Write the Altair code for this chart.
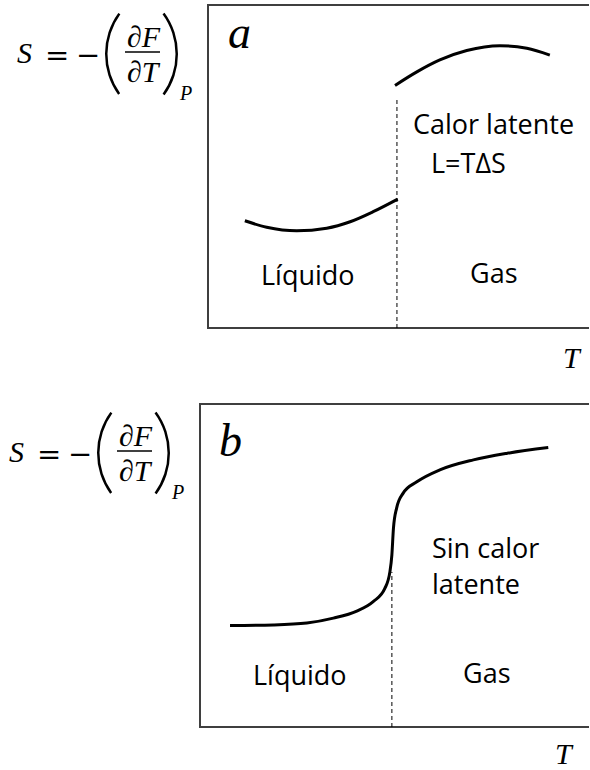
import altair as alt
import pandas as pd

# Entropy S(T) across a liquid-gas transition, two schematic cases.
# Panel a: first-order transition (entropy jumps at T_c -> latent heat)
a_liq_T = [1.15, 1.71, 2.48, 3.25, 3.85, 4.44, 5.07]
a_liq_S = [3.32, 3.12, 3.01, 3.09, 3.29, 3.60, 3.99]
a_gas_T = [5.00, 5.56, 6.15, 6.84, 7.69, 8.38, 8.97]
a_gas_S = [7.51, 7.93, 8.30, 8.59, 8.74, 8.66, 8.45]
a_Tc = 5.05
a_dash_top = 7.12

# Panel b: continuous transition (no latent heat)
b_T = [0.77, 1.88, 2.74, 3.42, 4.02, 4.44, 4.74, 4.87, 4.92, 4.96,
       5.04, 5.21, 5.56, 6.15, 7.01, 7.86, 8.93]
b_S = [3.14, 3.16, 3.22, 3.37, 3.59, 3.88, 4.29, 4.81, 5.33, 6.15,
       6.77, 7.24, 7.59, 7.96, 8.27, 8.47, 8.65]
b_Tc = 4.92
b_dash_top = 4.80

W, H = 390, 323
GAP = 76

TEXT_FONT = "Open Sans"
MATH_FONT = "Liberation Serif"
OP_FONT = "DejaVu Sans"
FRAME = "#3f3f3f"

one = pd.DataFrame({"k": [0]})


def txt(s, x, y, size, font=TEXT_FONT, style="normal"):
    return alt.Chart(one).mark_text(
        text=s, align="left", baseline="alphabetic", font=font,
        fontSize=size, fontStyle=style, color="black",
    ).encode(x=alt.value(x), y=alt.value(y))


def paren(cx, cy, t0, t1):
    # thin circular arc used as a tall parenthesis
    return alt.Chart(one).mark_arc(
        radius=70, radius2=67.5, theta=t0, theta2=t1, color="black"
    ).encode(x=alt.value(cx), y=alt.value(cy))


def math_label(bl):
    # S = -(dF/dT)_P, placed left of the frame
    return [
        txt("S", bl - 191, 58, 30, MATH_FONT, "italic"),
        txt("=", bl - 163, 60, 29, OP_FONT),
        txt("\u2212", bl - 132, 60, 29, OP_FONT),
        paren(bl - 33, 49, 4.09, 5.34),
        txt("\u2202F", bl - 81, 42, 30, MATH_FONT, "italic"),
        txt("\u2202T", bl - 81, 77, 30, MATH_FONT, "italic"),
        paren(bl - 100, 49, 0.94, 2.20),
        txt("P", bl - 28, 95, 20, MATH_FONT, "italic"),
        alt.Chart(one).mark_rule(color="black", strokeWidth=1.5).encode(
            x=alt.value(bl - 83), x2=alt.value(bl - 48), y=alt.value(47)
        ),
    ]


def frame(bl):
    base = alt.Chart(one)
    kw = dict(color=FRAME, strokeWidth=2, strokeCap="square")
    return [
        base.mark_rule(**kw).encode(x=alt.value(bl), y=alt.value(0), y2=alt.value(H)),
        base.mark_rule(**kw).encode(x=alt.value(bl), x2=alt.value(W - 2), y=alt.value(0)),
        base.mark_rule(**kw).encode(x=alt.value(bl), x2=alt.value(W - 2), y=alt.value(H)),
    ]


xs = alt.Scale(domain=[0, 10], nice=False, zero=False)
ys = alt.Scale(domain=[0, 10], nice=False, zero=False)


def curve(df):
    return alt.Chart(df).mark_line(
        color="black", strokeWidth=3, interpolate="monotone"
    ).encode(
        x=alt.X("T:Q", scale=xs, axis=None),
        y=alt.Y("S:Q", scale=ys, axis=None),
        detail="rama:N",
    )


def dashed(tc, top):
    d = pd.DataFrame({"T": [tc], "S0": [0.0], "S1": [top]})
    return alt.Chart(d).mark_rule(
        color="black", strokeWidth=1, strokeDash=[4, 3]
    ).encode(
        x=alt.X("T:Q", scale=xs, axis=None),
        y=alt.Y("S0:Q", scale=ys, axis=None),
        y2="S1:Q",
    )


# ---- panel a ----
a_df = pd.concat([
    pd.DataFrame({"T": a_liq_T, "S": a_liq_S, "rama": "líquido"}),
    pd.DataFrame({"T": a_gas_T, "S": a_gas_S, "rama": "gas"}),
])
bl_a = 8
panel_a = alt.layer(
    alt.Chart(one).mark_rule(opacity=0).encode(
        x=alt.value(-200), x2=alt.value(W), y=alt.value(-5), y2=alt.value(0)
    ),
    *frame(bl_a),
    dashed(a_Tc, a_dash_top),
    curve(a_df),
    txt("a", 28, 43, 46, MATH_FONT, "italic"),
    txt("Calor latente", 213, 129, 27),
    txt("L=T\u0394S", 231, 168, 27),
    txt("Líquido", 61, 280, 27),
    txt("Gas", 270, 278, 27),
    txt("T", 363, H + 40, 30, MATH_FONT, "italic"),
    *math_label(bl_a),
).properties(width=W, height=H)

# ---- panel b ----
b_df = pd.DataFrame({"T": b_T, "S": b_S, "rama": "continua"})
bl_b = 0
panel_b = alt.layer(
    alt.Chart(one).mark_rule(opacity=0).encode(
        x=alt.value(-200), x2=alt.value(W), y=alt.value(H), y2=alt.value(H + 43)
    ),
    *frame(bl_b),
    dashed(b_Tc, b_dash_top),
    curve(b_df),
    txt("b", 19, 52, 46, MATH_FONT, "italic"),
    txt("Sin calor", 232, 154, 27),
    txt("latente", 232, 190, 27),
    txt("Líquido", 53, 281, 27),
    txt("Gas", 263, 279, 27),
    txt("T", 355, H + 37, 30, MATH_FONT, "italic"),
    *math_label(bl_b),
).properties(width=W, height=H)

chart = alt.vconcat(panel_a, panel_b, spacing=GAP, bounds="flush").properties(
    padding=0
).configure_view(stroke=None)

chart.save("out.html", embed_options={"renderer": "svg", "actions": False})
